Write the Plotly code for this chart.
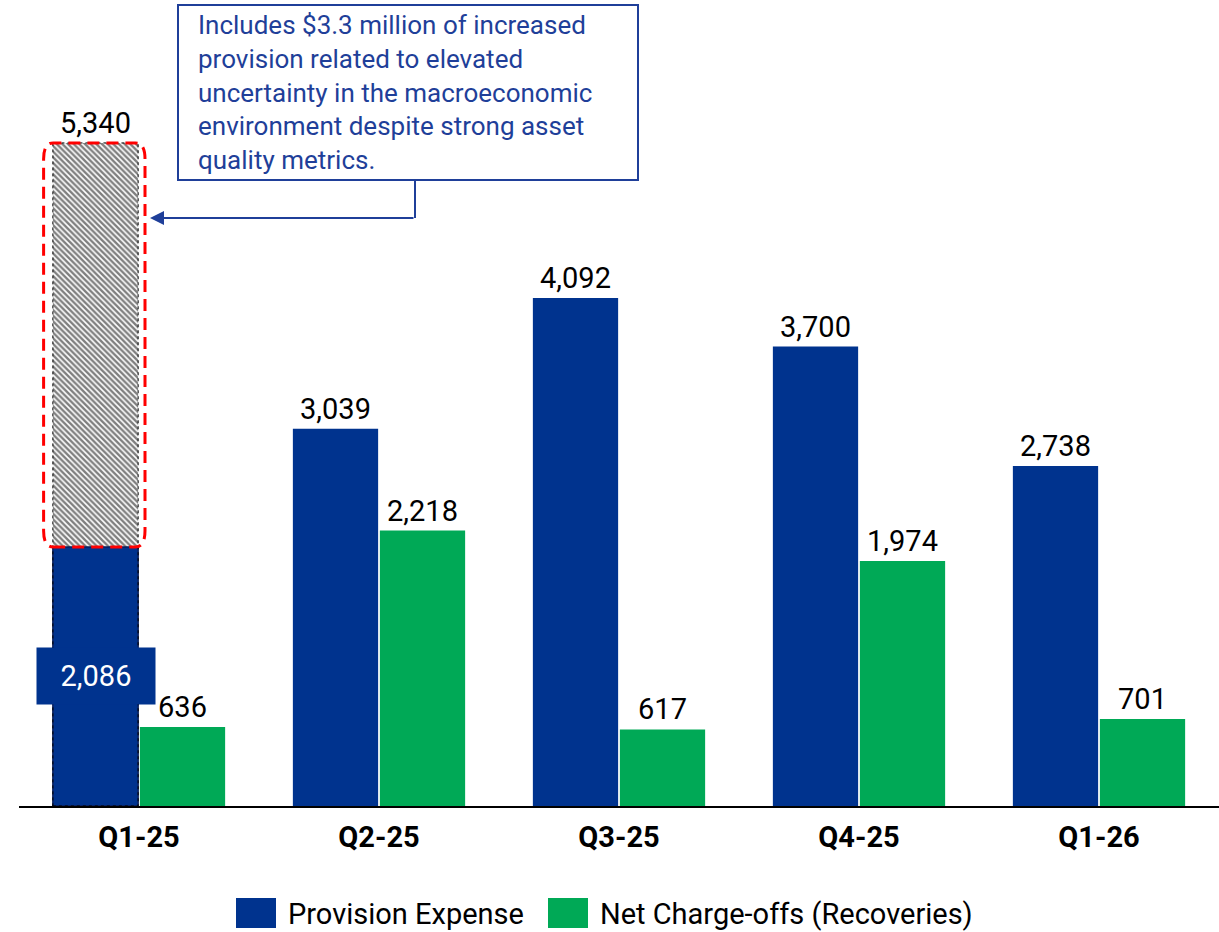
import plotly.graph_objects as go

# Quarterly provision expense vs net charge-offs ($ thousands)
quarters = ["Q1-25", "Q2-25", "Q3-25", "Q4-25", "Q1-26"]
provision = [2086, 3039, 4092, 3700, 2738]
net_charge_offs = [636, 2218, 617, 1974, 701]
# Q1-25 provision including the macro-uncertainty reserve build
q1_total_with_reserve = 5340

BLUE = "#00338E"
GREEN = "#00A956"
NAVY_TEXT = "#1F3F99"
FONT = "Roboto"
LABEL_SIZE = 29

W, H = 1219, 932
M_L, M_R, M_T, M_B = 19, 0, 61, 126
PLOT_W = W - M_L - M_R
PLOT_H = H - M_T - M_B


def px(x):
    """Horizontal pixel -> paper coordinate."""
    return (x - M_L) / PLOT_W


def py(y):
    """Vertical pixel (from top) -> paper coordinate."""
    return (H - M_B - y) / PLOT_H


xs = list(range(len(quarters)))
fmt = lambda v: f"{v:,}"

fig = go.Figure()

# Hatched full-height bar behind the Q1-25 provision bar
fig.add_trace(go.Bar(
    x=[xs[0]], y=[q1_total_with_reserve], offsetgroup="prov",
    marker=dict(color="white", line=dict(width=0),
                pattern=dict(shape="\\", fgcolor="black", bgcolor="white",
                             size=4, solidity=0.6)),
    text=[fmt(q1_total_with_reserve)], textposition="outside",
    textfont=dict(family=FONT, size=LABEL_SIZE, color="black"),
    cliponaxis=False, showlegend=False, hoverinfo="skip",
))

fig.add_trace(go.Bar(
    x=xs, y=provision, offsetgroup="prov", name="Provision Expense",
    marker=dict(color=BLUE, line=dict(color="#0A1F5C",
                                      width=[1.5] + [0] * (len(xs) - 1))),
    text=[""] + [fmt(v) for v in provision[1:]], textposition="outside",
    textfont=dict(family=FONT, size=LABEL_SIZE, color="black"),
    cliponaxis=False, showlegend=False,
))

fig.add_trace(go.Bar(
    x=xs, y=net_charge_offs, offsetgroup="nco", name="Net Charge-offs (Recoveries)",
    marker=dict(color=GREEN, line=dict(width=0)),
    text=[fmt(v) for v in net_charge_offs], textposition="outside",
    textfont=dict(family=FONT, size=LABEL_SIZE, color="black"),
    cliponaxis=False, showlegend=False,
))

BARGAP = 0.275
GROUPGAP = 0.02
group_w = 1 - BARGAP
bar_w = group_w / 2 * (1 - GROUPGAP)
prov_center = xs[0] - group_w / 4

shapes = []
# Dotted outline of the hatched bar
shapes.append(dict(type="rect", xref="x", yref="y",
                   x0=prov_center - bar_w / 2, x1=prov_center + bar_w / 2,
                   y0=0, y1=q1_total_with_reserve,
                   line=dict(color="black", width=1, dash="dot"), layer="above"))

# Red dashed rounded frame around the reserve build
rx0 = xs[0] - group_w / 2 - 0.035
rx1 = xs[0] + 0.025
ry0 = provision[0]
ry1 = q1_total_with_reserve
cx, cy = 0.04, 130
path = (f"M {rx0 + cx},{ry0} L {rx1 - cx},{ry0} Q {rx1},{ry0} {rx1},{ry0 + cy} "
        f"L {rx1},{ry1 - cy} Q {rx1},{ry1} {rx1 - cx},{ry1} "
        f"L {rx0 + cx},{ry1} Q {rx0},{ry1} {rx0},{ry1 - cy} "
        f"L {rx0},{ry0 + cy} Q {rx0},{ry0} {rx0 + cx},{ry0} Z")
shapes.append(dict(type="path", xref="x", yref="y", path=path,
                   line=dict(color="#FF0000", width=3, dash="12px,7px"), layer="above"))

# Callout box and connector
shapes.append(dict(type="rect", xref="paper", yref="paper",
                   x0=px(178), x1=px(638), y0=py(180), y1=py(5),
                   line=dict(color=NAVY_TEXT, width=2), fillcolor="white"))
shapes.append(dict(type="line", xref="paper", yref="paper",
                   x0=px(415), x1=px(415), y0=py(180), y1=py(218),
                   line=dict(color=NAVY_TEXT, width=2)))

# Legend swatches
shapes.append(dict(type="rect", xref="paper", yref="paper",
                   x0=px(236), x1=px(276), y0=py(928), y1=py(898),
                   fillcolor=BLUE, line=dict(width=0)))
shapes.append(dict(type="rect", xref="paper", yref="paper",
                   x0=px(548), x1=px(588), y0=py(928), y1=py(898),
                   fillcolor=GREEN, line=dict(width=0)))

annotations = []
annotations.append(dict(
    xref="paper", yref="paper", x=px(196), y=py(92), xanchor="left", yanchor="middle",
    text=("Includes $3.3 million of increased<br>provision related to elevated<br>"
          "uncertainty in the macroeconomic<br>environment despite strong asset<br>"
          "quality metrics."),
    align="left", showarrow=False,
    font=dict(family=FONT, size=26, color=NAVY_TEXT),
))
annotations.append(dict(
    xref="paper", yref="paper", x=px(150), y=py(218), ax=265, ay=0,
    text="", showarrow=True, arrowhead=2, arrowsize=1.4, arrowwidth=2,
    arrowcolor=NAVY_TEXT,
))
# Inside label for the Q1-25 provision bar
annotations.append(dict(
    xref="x", yref="y", x=prov_center, y=provision[0] / 2,
    text=fmt(provision[0]), showarrow=False,
    font=dict(family=FONT, size=LABEL_SIZE, color="white"),
    bgcolor=BLUE, width=114, height=52, borderpad=2,
))
# Legend labels
annotations.append(dict(
    xref="paper", yref="paper", x=px(286), y=py(914), xanchor="left", yanchor="middle",
    text="Provision Expense", showarrow=False,
    font=dict(family=FONT, size=29, color="black"),
))
annotations.append(dict(
    xref="paper", yref="paper", x=px(598), y=py(914), xanchor="left", yanchor="middle",
    text="Net Charge-offs (Recoveries)", showarrow=False,
    font=dict(family=FONT, size=29, color="black"),
))

fig.update_layout(
    width=W, height=H,
    margin=dict(l=M_L, r=M_R, t=M_T, b=M_B),
    barmode="group", bargap=BARGAP, bargroupgap=GROUPGAP,
    plot_bgcolor="white", paper_bgcolor="white",
    showlegend=False,
    shapes=shapes, annotations=annotations,
    font=dict(family=FONT),
)
fig.update_xaxes(
    range=[-0.5, len(xs) - 0.5], tickvals=xs,
    ticktext=[f"<b>{q}</b>" for q in quarters],
    tickfont=dict(family=FONT, size=29, color="black"),
    showline=True, linecolor="black", linewidth=2,
    showgrid=False, zeroline=False,
    ticks="outside", ticklen=4, tickcolor="rgba(0,0,0,0)",
)
fig.update_yaxes(range=[0, 6000], visible=False, showgrid=False, zeroline=False)

fig.write_html("out.html")
